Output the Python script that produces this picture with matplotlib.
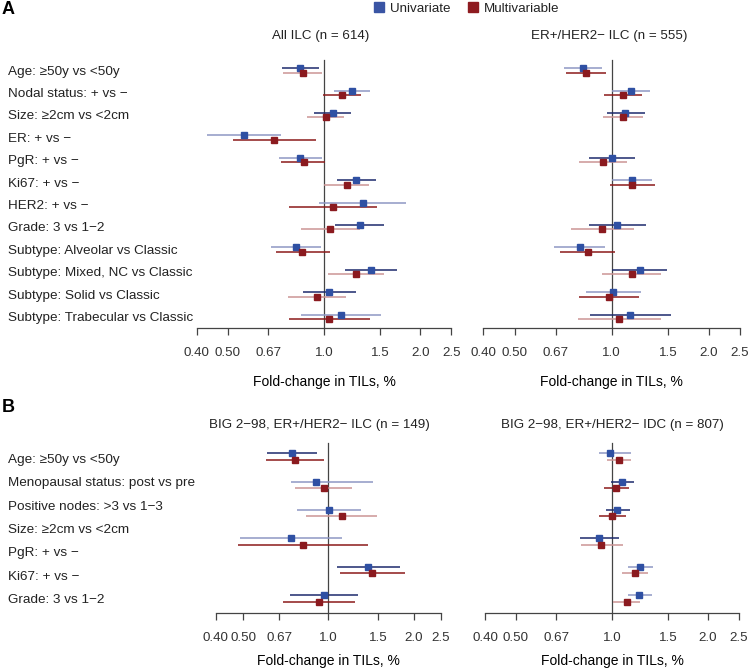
import numpy as np
import matplotlib
matplotlib.use("Agg")
import matplotlib.pyplot as plt
from matplotlib.lines import Line2D
from matplotlib.ticker import NullLocator
from matplotlib.transforms import blended_transform_factory

plt.rcParams['font.family'] = ['Liberation Sans', 'DejaVu Sans']
plt.rcParams['text.color'] = '#222222'

# -------------------------------------------------------------------------------------------------
# Data (fold-change estimates with 95% CI)
# -------------------------------------------------------------------------------------------------
labels_a = ["Age: \u226550y vs <50y", "Nodal status: + vs \u2212", "Size: \u22652cm vs <2cm",
            "ER: + vs \u2212", "PgR: + vs \u2212", "Ki67: + vs \u2212", "HER2: + vs \u2212",
            "Grade: 3 vs 1\u22122", "Subtype: Alveolar vs Classic", "Subtype: Mixed, NC vs Classic",
            "Subtype: Solid vs Classic", "Subtype: Trabecular vs Classic"]

# All ILC (n = 614)
a1_uni = [0.843, 1.221, 1.065, 0.561, 0.843, 1.259, 1.321, 1.296, 0.816, 1.399, 1.039, 1.130]
a1_uni_lo = [0.737, 1.077, 0.933, 0.430, 0.725, 1.095, 0.967, 1.082, 0.681, 1.163, 0.861, 0.847]
a1_uni_hi = [0.967, 1.393, 1.214, 0.734, 0.983, 1.451, 1.805, 1.544, 0.979, 1.695, 1.256, 1.507]
a1_mul = [0.858, 1.136, 1.012, 0.699, 0.864, 1.178, 1.065, 1.047, 0.855, 1.259, 0.949, 1.039]
a1_mul_lo = [0.746, 0.995, 0.883, 0.521, 0.734, 1.002, 0.777, 0.847, 0.706, 1.027, 0.774, 0.779]
a1_mul_hi = [0.988, 1.305, 1.157, 0.942, 1.007, 1.383, 1.461, 1.296, 1.044, 1.544, 1.172, 1.393]
a1_uni_dark = [1, 0, 1, 0, 0, 1, 0, 1, 0, 1, 1, 0]
a1_mul_dark = [0, 1, 0, 1, 1, 0, 1, 0, 1, 0, 0, 1]

# ER+/HER2- ILC (n = 555)
nan = np.nan
a2_uni = [0.813, 1.145, 1.103, nan, 1.000, 1.159, nan, 1.041, 0.796, 1.222, 1.012, 1.143]
a2_uni_lo = [0.710, 1.000, 0.965, nan, 0.849, 1.000, nan, 0.851, 0.664, 1.000, 0.831, 0.859]
a2_uni_hi = [0.936, 1.312, 1.266, nan, 1.181, 1.337, nan, 1.281, 0.956, 1.489, 1.233, 1.525]
a2_mul = [0.832, 1.084, 1.087, nan, 0.942, 1.156, nan, 0.933, 0.845, 1.156, 0.984, 1.054]
a2_mul_lo = [0.720, 0.944, 0.942, nan, 0.792, 0.988, nan, 0.748, 0.691, 0.933, 0.792, 0.786]
a2_mul_hi = [0.963, 1.245, 1.254, nan, 1.119, 1.360, nan, 1.170, 1.027, 1.426, 1.215, 1.419]
a2_uni_dark = [0, 0, 1, 0, 1, 0, 0, 1, 0, 1, 0, 1]
a2_mul_dark = [1, 1, 0, 0, 0, 1, 0, 0, 1, 0, 1, 0]

labels_b = ["Age: \u226550y vs <50y", "Menopausal status: post vs pre",
            "Positive nodes: >3 vs 1\u22123", "Size: \u22652cm vs <2cm", "PgR: + vs \u2212",
            "Ki67: + vs \u2212", "Grade: 3 vs 1\u22122"]

# BIG 2-98, ER+/HER2- ILC (n = 149)
b1_uni = [0.744, 0.902, 1.003, 0.739, 1.384, 0.966]
b1_uni_lo = [0.606, 0.739, 0.777, 0.488, 1.070, 0.732]
b1_uni_hi = [0.915, 1.443, 1.301, 1.121, 1.790, 1.276]
b1_mul = [0.765, 0.962, 1.118, 0.812, 1.423, 0.927]
b1_mul_lo = [0.601, 0.763, 0.834, 0.479, 1.100, 0.690]
b1_mul_hi = [0.968, 1.212, 1.483, 1.378, 1.870, 1.242]
b1_uni_dark = [1, 0, 0, 0, 1, 1]
b1_mul_dark = [1, 0, 0, 1, 1, 1]

# BIG 2-98, ER+/HER2- IDC (n = 807)
b2_uni = [0.986, 1.077, 1.039, 0.912, 1.221, 1.218]
b2_uni_lo = [0.910, 0.991, 0.955, 0.794, 1.122, 1.120]
b2_uni_hi = [1.144, 1.172, 1.139, 1.052, 1.341, 1.331]
b2_mul = [1.052, 1.029, 1.000, 0.926, 1.180, 1.112]
b2_mul_lo = [0.967, 0.944, 0.910, 0.798, 1.072, 1.010]
b2_mul_hi = [1.147, 1.131, 1.104, 1.080, 1.299, 1.223]
b2_uni_dark = [0, 1, 1, 1, 0, 0]
b2_mul_dark = [0, 1, 1, 0, 0, 0]

ticks = [0.40, 0.50, 0.67, 1.0, 1.5, 2.0, 2.5]
tick_labels = ["0.40", "0.50", "0.67", "1.0", "1.5", "2.0", "2.5"]

# -------------------------------------------------------------------------------------------------
# Styling
# -------------------------------------------------------------------------------------------------
blue = '#2f50a3'
blue_dark = '#1c2a6c'
blue_light = '#8e97c4'
red = '#8b1a1f'
red_dark = '#8b1a1a'
red_light = '#cc9494'
axis_col = '#444444'


def forest(ax, uni, ulo, uhi, mul, mlo, mhi, udark, mdark, off, ybottom):
    y = np.arange(len(uni))
    for i in y:
        if np.isnan(uni[i]):
            continue
        ax.plot([ulo[i], uhi[i]], [i - off, i - off], lw=1.1,
                color=blue_dark if udark[i] else blue_light, solid_capstyle='butt', zorder=2)
        ax.plot([mlo[i], mhi[i]], [i + off, i + off], lw=1.1,
                color=red_dark if mdark[i] else red_light, solid_capstyle='butt', zorder=2)
    ax.plot(uni, y - off, 's', ms=4.4, color=blue, mec=blue, zorder=4, lw=0)
    ax.plot(mul, y + off, 's', ms=4.4, color=red, mec=red, zorder=4, lw=0)
    ax.plot([1, 1], [-0.47, ybottom], color='#444444', lw=0.9, zorder=1)

    ax.set_xscale('log')
    ax.set_xlim(0.40, 2.5)
    ax.set_ylim(ybottom, -0.6)
    ax.set_xticks(ticks)
    ax.set_xticklabels(tick_labels)
    ax.xaxis.set_minor_locator(NullLocator())
    ax.tick_params(axis='x', direction='out', length=5, width=0.9, color=axis_col,
                   labelsize=9.6, labelcolor='#333333', pad=9)
    ax.set_yticks([])
    for s in ['top', 'right', 'left']:
        ax.spines[s].set_visible(False)
    ax.spines['bottom'].set_color(axis_col)
    ax.spines['bottom'].set_linewidth(0.9)


fig = plt.figure(figsize=(7.49, 6.69), dpi=100)

W, H = 749.0, 669.0
ax_a1 = fig.add_axes([196.7 / W, 0.5097, 254.6 / W, 0.405])
ax_a2 = fig.add_axes([483.3 / W, 0.5097, 256.7 / W, 0.405])
ax_b1 = fig.add_axes([215.7 / W, 0.0842, 225.3 / W, 0.2589])
ax_b2 = fig.add_axes([485.0 / W, 0.0842, 254.0 / W, 0.2589])

forest(ax_a1, a1_uni, a1_uni_lo, a1_uni_hi, a1_mul, a1_mul_lo, a1_mul_hi,
       a1_uni_dark, a1_mul_dark, 0.098, 11.5)
forest(ax_a2, a2_uni, a2_uni_lo, a2_uni_hi, a2_mul, a2_mul_lo, a2_mul_hi,
       a2_uni_dark, a2_mul_dark, 0.098, 11.5)
forest(ax_b1, b1_uni, b1_uni_lo, b1_uni_hi, b1_mul, b1_mul_lo, b1_mul_hi,
       b1_uni_dark, b1_mul_dark, 0.117, 5.51)
forest(ax_b2, b2_uni, b2_uni_lo, b2_uni_hi, b2_mul, b2_mul_lo, b2_mul_hi,
       b2_uni_dark, b2_mul_dark, 0.117, 5.51)

for ax in [ax_a1, ax_a2]:
    ax.set_xlabel("Fold-change in TILs, %", fontsize=10, labelpad=11)
for ax in [ax_b1, ax_b2]:
    ax.set_xlabel("Fold-change in TILs, %", fontsize=10, labelpad=7)

# row labels
tr = blended_transform_factory(fig.transFigure, ax_a1.transData)
for i, lab in enumerate(labels_a):
    fig.text(8 / W, i + 0.05, lab, transform=tr, ha='left', va='center', fontsize=9.7)

tr = blended_transform_factory(fig.transFigure, ax_b1.transData)
for yb, lab in zip(np.linspace(0.12, 5.06, len(labels_b)), labels_b):
    fig.text(8 / W, yb, lab, transform=tr, ha='left', va='center', fontsize=9.7)

# panel titles
fig.text(321 / W, 1 - 36 / H, "All ILC (n = 614)", ha='center', va='center', fontsize=9.6)
fig.text(609 / W, 1 - 36 / H, "ER+/HER2\u2212 ILC (n = 555)", ha='center', va='center', fontsize=9.6)
fig.text(319 / W, 1 - 425 / H, "BIG 2\u221298, ER+/HER2\u2212 ILC (n = 149)",
         ha='center', va='center', fontsize=9.6)
fig.text(612 / W, 1 - 425 / H, "BIG 2\u221298, ER+/HER2\u2212 IDC (n = 807)",
         ha='center', va='center', fontsize=9.6)

# panel letters
fig.text(2 / W, 1 - 9 / H, "A", ha='left', va='center', fontsize=13, fontweight='bold', color='black')
fig.text(2 / W, 1 - 408 / H, "B", ha='left', va='center', fontsize=13, fontweight='bold', color='black')

# legend
handles = [Line2D([], [], marker='s', ls='', ms=7, color='#3a55a4'),
           Line2D([], [], marker='s', ls='', ms=7, color='#8e1b20')]
fig.legend(handles, ["Univariate", "Multivariable"], loc='center', ncol=2,
           bbox_to_anchor=(466 / W, 1 - 9 / H), frameon=False, fontsize=9.6,
           handletextpad=0.3, columnspacing=1.2, handlelength=1.0, borderaxespad=0)

fig.savefig("out.png", dpi=100)
